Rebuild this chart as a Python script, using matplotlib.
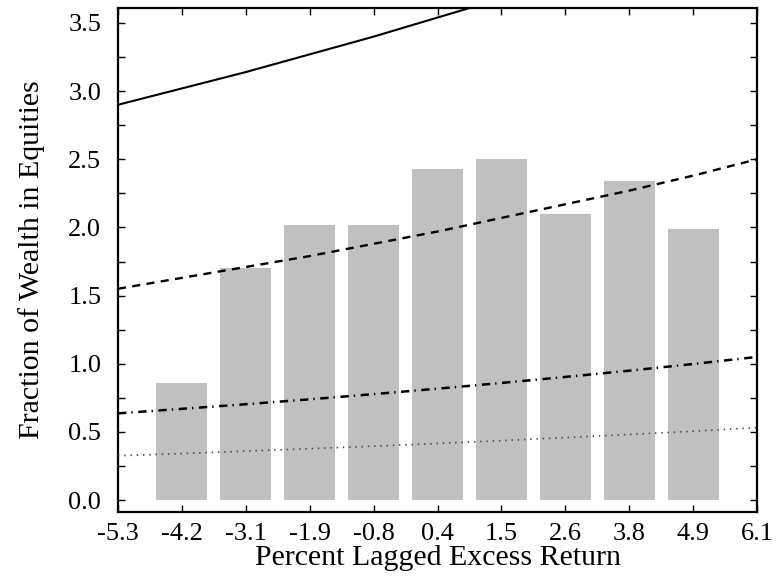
import numpy as np
import matplotlib
matplotlib.use("Agg")
import matplotlib.pyplot as plt
from matplotlib.ticker import MultipleLocator

plt.rcParams['font.family'] = ['Liberation Serif', 'DejaVu Serif']
plt.rcParams['lines.scale_dashes'] = False

# lagged excess return bins (labels) and their positions on the axis
tick_labels = ['-5.3', '-4.2', '-3.1', '-1.9', '-0.8', '0.4', '1.5', '2.6', '3.8', '4.9', '6.1']
tick_pos = np.linspace(-5.3, 6.1, len(tick_labels))

# empirical equity share per bin
bar_labels = tick_labels[1:-1]
bar_values = [0.86, 1.70, 2.02, 2.02, 2.43, 2.50, 2.10, 2.34, 1.99]

# model allocations evaluated at each tick
solid_vals = [2.90, 3.02, 3.14, 3.27, 3.40, 3.54, 3.68, 3.83, 3.99, 4.15, 4.32]
dashed_vals = [1.55, 1.63, 1.71, 1.79, 1.88, 1.97, 2.07, 2.17, 2.27, 2.38, 2.50]
dashdot_vals = [0.636, 0.669, 0.703, 0.739, 0.777, 0.817, 0.859, 0.903, 0.949, 0.998, 1.05]
dotted_vals = [0.325, 0.341, 0.359, 0.377, 0.395, 0.415, 0.436, 0.458, 0.481, 0.505, 0.531]

fig = plt.figure(figsize=(7.81, 5.80), dpi=100)
ax = fig.add_axes([0.1511, 0.1172, 0.8182, 0.869])

bar_x = [tick_pos[tick_labels.index(b)] for b in bar_labels]
step = tick_pos[1] - tick_pos[0]
ax.bar(bar_x, bar_values, width=0.8 * step, color='#c0c0c0', zorder=1)

ax.plot(tick_pos, solid_vals, color='black', lw=1.5, zorder=3)
ax.plot(tick_pos, dashed_vals, color='black', lw=1.7, linestyle=(0, (5.8, 4.6)), zorder=3)
ax.plot(tick_pos, dashdot_vals, color='black', lw=1.8, linestyle=(0, (6.0, 3.6, 1.0, 4.0)), zorder=3)
ax.plot(tick_pos, dotted_vals, color='#444444', lw=1.2, linestyle=(0, (1.0, 3.5)), zorder=3)

ax.set_xlim(tick_pos[0], tick_pos[-1])
ax.set_ylim(-0.088, 3.61)
ax.set_xticks(tick_pos)
ax.set_xticklabels(tick_labels)
ax.yaxis.set_major_locator(MultipleLocator(0.5))
ax.yaxis.set_minor_locator(MultipleLocator(0.25))
ax.yaxis.set_major_formatter(plt.FormatStrFormatter('%.1f'))

ax.tick_params(axis='both', which='both', direction='in', length=5, width=1.0,
               top=True, right=True, labelsize=19)
ax.tick_params(axis='x', pad=8)
ax.tick_params(axis='y', pad=12)
for s in ax.spines.values():
    s.set_linewidth(1.6)

ax.set_xlabel('Percent Lagged Excess Return', fontsize=21.5, labelpad=0)
ax.set_ylabel('Fraction of Wealth in Equities', fontsize=21.5, labelpad=17)

fig.savefig('out.png', dpi=100)
